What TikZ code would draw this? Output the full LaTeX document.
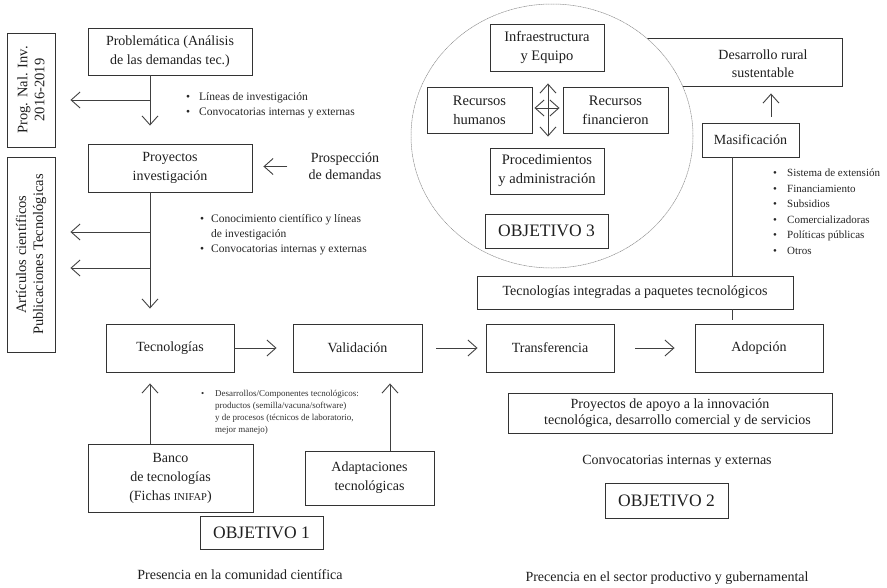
\documentclass[tikz,border=0pt]{standalone}
\usepackage{fontspec}
\setmainfont{Liberation Serif}
\usetikzlibrary{arrows.meta}
\newcommand{\fsz}[2]{\fontsize{#1}{#2}\selectfont}
\begin{document}
\begin{tikzpicture}[x=1pt,y=-1pt,
 box/.style={draw=black!80, line width=0.9pt, inner sep=0pt, align=center, text=black!88, font=\fsz{14}{19}},
 ebox/.style={box, font=\fsz{14.5}{19}},
 obj/.style={box, font=\fsz{17.5}{20}},
 vbox/.style={box, rotate=90, font=\fsz{14.5}{17}},
 ln/.style={draw=black!75, line width=0.9pt},
 arr/.style={ln, -{Straight Barb[length=9pt,width=16pt]}},
 darr/.style={ln, {Straight Barb[length=9pt,width=16pt]}-{Straight Barb[length=9pt,width=16pt]}},
 lbl/.style={inner sep=0pt, align=center, text=black!88, font=\fsz{14}{17}},
 bl/.style={inner sep=0pt, anchor=base west, text=black!85, font=\fsz{11.5}{15.3}},
 sbl/.style={inner sep=0pt, anchor=base west, text=black!80, font=\fsz{9}{12}},
 ell/.style={draw=black!45, line width=0.5pt, dash pattern=on 1.2pt off 0.5pt, fill=white}
]
\useasboundingbox (0,0) rectangle (887,587);
\fill[white] (0,0) rectangle (887,587);

% left vertical boxes
\node[vbox, minimum width=114, minimum height=48] (prog) at (31,90) {Prog. Nal. Inv.\\2016-2019};
\node[vbox, minimum width=195, minimum height=48] (art) at (31,254.5) {Artículos científicos\\Publicaciones Tecnológicas};

% left column
\node[box, minimum width=164, minimum height=47] (prob) at (170,51.5) {Problemática (Análisis\\de las demandas tec.)};
\node[box, minimum width=164, minimum height=48] (proy) at (170,168) {Proyectos\\investigación};
\node[lbl] (prosp) at (345,166.5) {Prospección\\de demandas};

\coordinate (j1) at (150,100);
\coordinate (j2) at (150,232);
\coordinate (j3) at (150,268);
\draw[ln] (prob.south -| j1) -- (j1);
\draw[arr, shorten >=18pt] (j1) -- (proy.north -| j1);
\draw[arr, shorten >=15pt] (j1) -- (prog.south |- j1);
\draw[arr, shorten <=21pt, shorten >=11pt] (prosp.west) -- (proy.east |- prosp.west);

\node[bl] (l1) at (186,100) {\begin{tabular}[t]{@{}l@{}l@{}}\makebox[13pt][l]{\textbullet}&Líneas de investigación\\\makebox[13pt][l]{\textbullet}&Convocatorias internas y externas\end{tabular}};
\node[bl] (l2) at (200,222) {\begin{tabular}[t]{@{}l@{}l@{}}\makebox[11pt][l]{\textbullet}&Conocimiento científico y líneas\\&de investigación\\\makebox[11pt][l]{\textbullet}&Convocatorias internas y externas\end{tabular}};

% main row
\node[box, minimum width=128, minimum height=48] (tec) at (170,348) {Tecnologías};
\node[box, minimum width=129, minimum height=48] (val) at (357.5,348) {Validación};
\node[box, minimum width=128, minimum height=48] (tra) at (550,348) {Transferencia};
\node[box, minimum width=128, minimum height=48] (ado) at (759,348) {Adopción};

\draw[arr, shorten >=15pt] (proy.south -| j2) -- (tec.north -| j2);
\draw[arr, shorten >=15pt] (j2) -- (art.south |- j2);
\draw[arr, shorten >=15pt] (j3) -- (art.south |- j3);

\draw[arr, shorten >=16pt] (tec.east) -- (val.west);
\draw[arr, shorten <=14pt, shorten >=8pt] (val.east) -- (tra.west);
\draw[arr, shorten <=21pt, shorten >=20pt] (tra.east) -- (ado.west);

% bottom left
\node[box, minimum width=165, minimum height=68] (banco) at (170.5,478) {Banco\\de tecnologías\\(Fichas {\fsz{10.5}{10}INIFAP})};
\node[box, minimum width=129, minimum height=54] (adap) at (369.5,478) {Adaptaciones\\tecnológicas};
\node[obj, minimum width=123, minimum height=33] (obj1) at (261.5,532.5) {OBJETIVO 1};
\node[lbl] (pres1) at (240,575) {Presencia en la comunidad científica};
\coordinate (ja) at (390,420);
\draw[arr, shorten >=11pt] (banco.north -| j2) -- (tec.south -| j2);
\draw[arr, shorten >=11pt] (adap.north -| ja) -- (val.south -| ja);

\node[sbl] (l3) at (201,396.5) {\begin{tabular}[t]{@{}l@{}l@{}}\makebox[14pt][l]{\textbullet}&Desarrollos/Componentes tecnológicos:\\&productos (semilla/vacuna/software)\\&y de procesos (técnicos de laboratorio,\\&mejor manejo)\end{tabular}};

% right side
\node[draw=black!80, line width=0.9pt, inner sep=0pt, minimum width=200, minimum height=48] (des) at (742,62) {};
\node[lbl, font=\fsz{14}{18}] (destx) at (763,63.5) {Desarrollo rural\\sustentable};

% ellipse
\draw[ell] (552,136) ellipse [x radius=141, y radius=132];
\node[ebox, minimum width=114, minimum height=47] (infra) at (547,47.5) {Infraestructura\\y Equipo};
\node[ebox, minimum width=105, minimum height=46] (rh) at (479.5,110) {Recursos\\humanos};
\node[ebox, minimum width=105, minimum height=46] (rf) at (615.5,110) {Recursos\\financieron};
\node[ebox, minimum width=114, minimum height=46] (proc) at (547,171) {Procedimientos\\y administración};
\node[obj, minimum width=123, minimum height=34] (obj3) at (546.5,231) {OBJETIVO 3};
\coordinate (jx) at (548,108);
\draw[darr, shorten <=12pt, shorten >=11pt] (infra.south -| jx) -- (proc.north -| jx);
\draw[darr, shorten <=2pt, shorten >=3pt] (rh.east |- jx) -- (rf.west |- jx);

\node[box, minimum width=97, minimum height=34] (mas) at (750.5,140) {Masificación};
\coordinate (jm) at (771,105);
\draw[arr, shorten <=6pt, shorten >=7pt] (mas.north -| jm) -- (des.south -| jm);

\node[bl, font=\fsz{11}{15.6}] (l4) at (773,176.5) {\begin{tabular}[t]{@{}l@{}l@{}}\makebox[14pt][l]{\textbullet}&Sistema de extensión\\\makebox[14pt][l]{\textbullet}&Financiamiento\\\makebox[14pt][l]{\textbullet}&Subsidios\\\makebox[14pt][l]{\textbullet}&Comercializadoras\\\makebox[14pt][l]{\textbullet}&Políticas públicas\\\makebox[14pt][l]{\textbullet}&Otros\end{tabular}};

\node[box, minimum width=316, minimum height=33] (tint) at (635,292.5) {Tecnologías integradas a paquetes tecnológicos};
\coordinate (jv) at (732,200);
\draw[ln] (mas.south -| jv) -- (tint.north -| jv);
\draw[ln, shorten >=4pt] (tint.south -| jv) -- (ado.north -| jv);

\node[box, minimum width=324, minimum height=40, font=\fsz{14}{16}] (apoyo) at (670,413) {Proyectos de apoyo a la innovación\\\hspace*{15pt}tecnológica, desarrollo comercial y de servicios};
\node[lbl] (conv) at (677,461) {Convocatorias internas y externas};
\node[obj, minimum width=123, minimum height=35] (obj2) at (666.5,500.5) {OBJETIVO 2};
\node[lbl] (pres2) at (667,578) {Precencia en el sector productivo y gubernamental};
\end{tikzpicture}
\end{document}
